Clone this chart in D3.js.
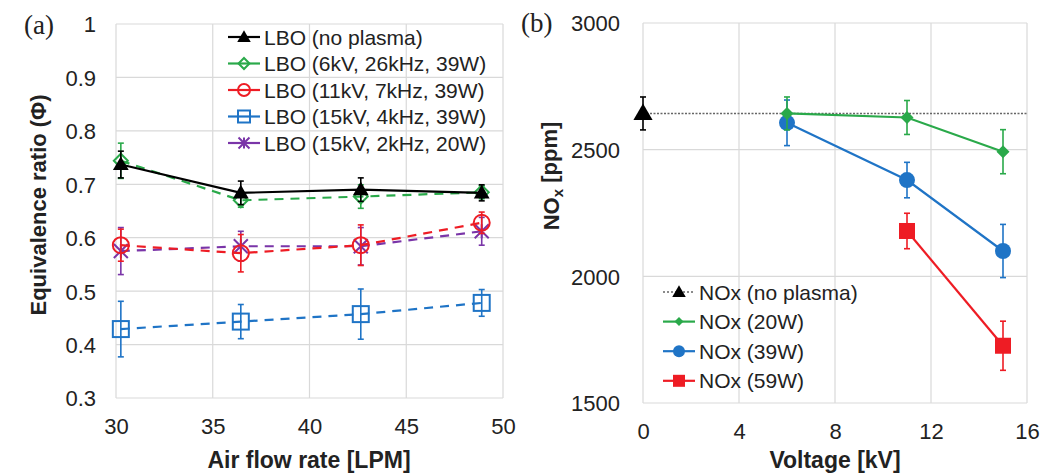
<!DOCTYPE html>
<html>
<head>
<meta charset="utf-8">
<script src="https://cdn.jsdelivr.net/npm/d3@7/dist/d3.min.js"></script>
<style>
  html, body { margin: 0; padding: 0; background: #fff; }
  svg { display: block; }
  text { font-family: "Liberation Sans", Arial, sans-serif; fill: #222; }
</style>
</head>
<body>
<svg id="chart" width="1062" height="476"></svg>
<script>
// ---- Panel (a): lean blow-out equivalence ratio vs air flow rate ----
const flowRate = [30.25, 36.45, 42.65, 48.9];
const lboNoPlasma = [0.737, 0.684, 0.690, 0.684];
const lboNoPlasmaErr = [0.025, 0.022, 0.022, 0.015];
const lbo6kV = [0.744, 0.670, 0.677, 0.685];
const lbo6kVErr = [0.033, 0.013, 0.022, 0.012];
const lbo11kV = [0.586, 0.571, 0.586, 0.628];
const lbo11kVErr = [0.030, 0.035, 0.038, 0.020];
const lbo15kV4 = [0.429, 0.443, 0.457, 0.478];
const lbo15kV4Err = [0.052, 0.032, 0.047, 0.025];
const lbo15kV2 = [0.575, 0.584, 0.584, 0.612];
const lbo15kV2Err = [0.044, 0.028, 0.035, 0.026];
const flowTicks = [30, 35, 40, 45, 50];
const phiTicks = [0.3, 0.4, 0.5, 0.6, 0.7, 0.8, 0.9, 1];
const phiTickLabels = ["0.3", "0.4", "0.5", "0.6", "0.7", "0.8", "0.9", "1"];

// ---- Panel (b): NOx emission vs applied voltage ----
const noPlasmaVoltage = [0];
const noxNoPlasma = [2643];
const noxNoPlasmaErr = [65];
const voltage = [6, 11, 15];
const nox20W = [2643, 2627, 2492];
const nox20WErr = [65, 67, 87];
const nox39W = [2606, 2380, 2100];
const nox39WErr = [90, 70, 105];
const voltage59W = [11, 15];
const nox59W = [2179, 1726];
const nox59WErr = [70, 97];
const voltTicks = [0, 4, 8, 12, 16];
const noxTicks = [1500, 2000, 2500, 3000];

const C = {
  black: "#000000",
  green: "#2aa94a",
  red: "#ee1c24",
  blue: "#1f74c6",
  purple: "#7a35a8",
  grid: "#d9d9d9",
  dot: "#666666"
};

const svg = d3.select("#chart");

// marker drawing helpers
function drawMarker(g, type, x, y, color, size) {
  const s = size;
  if (type === "triangle") {
    g.append("path").attr("d", d3.symbol(d3.symbolTriangle, s * s * 0.55)())
      .attr("transform", `translate(${x},${y + 1})`).attr("fill", color);
  } else if (type === "diamondOpen") {
    g.append("path").attr("d", `M0,${-s/2}L${s/2},0L0,${s/2}L${-s/2},0Z`)
      .attr("transform", `translate(${x},${y})`)
      .attr("fill", "none").attr("stroke", color).attr("stroke-width", 2);
  } else if (type === "diamond") {
    g.append("path").attr("d", `M0,${-s/2}L${s/2},0L0,${s/2}L${-s/2},0Z`)
      .attr("transform", `translate(${x},${y})`).attr("fill", color);
  } else if (type === "circleOpen") {
    g.append("circle").attr("cx", x).attr("cy", y).attr("r", s / 2)
      .attr("fill", "none").attr("stroke", color).attr("stroke-width", 2);
  } else if (type === "circle") {
    g.append("circle").attr("cx", x).attr("cy", y).attr("r", s / 2).attr("fill", color);
  } else if (type === "squareOpen") {
    g.append("rect").attr("x", x - s/2).attr("y", y - s/2).attr("width", s).attr("height", s)
      .attr("fill", "none").attr("stroke", color).attr("stroke-width", 2);
  } else if (type === "square") {
    g.append("rect").attr("x", x - s/2).attr("y", y - s/2).attr("width", s).attr("height", s)
      .attr("fill", color);
  } else if (type === "star") {
    const h = s / 2;
    g.append("path")
      .attr("d", `M${-h},${-h}L${h},${h}M${-h},${h}L${h},${-h}M0,${-h}L0,${h}`)
      .attr("transform", `translate(${x},${y})`)
      .attr("stroke", color).attr("stroke-width", 2).attr("fill", "none");
  }
}

function drawSeries(g, xs, ys, errs, xScale, yScale, opt) {
  const pts = xs.map((d, i) => [xScale(d), yScale(ys[i]), errs[i]]);
  // error bars
  pts.forEach((p, i) => {
    const y0 = yScale(ys[i] - errs[i]), y1 = yScale(ys[i] + errs[i]);
    g.append("line").attr("x1", p[0]).attr("x2", p[0]).attr("y1", y0).attr("y2", y1)
      .attr("stroke", opt.color).attr("stroke-width", 1.6);
    [y0, y1].forEach(yy => g.append("line")
      .attr("x1", p[0] - 3).attr("x2", p[0] + 3).attr("y1", yy).attr("y2", yy)
      .attr("stroke", opt.color).attr("stroke-width", 1.6));
  });
  // connecting line
  if (pts.length > 1) {
    g.append("path").attr("d", d3.line()(pts.map(p => [p[0], p[1]])))
      .attr("fill", "none").attr("stroke", opt.color).attr("stroke-width", 2.2)
      .attr("stroke-dasharray", opt.dash || null);
  }
  pts.forEach(p => drawMarker(g, opt.marker, p[0], p[1], opt.color, opt.size));
}

function drawGrid(g, xScale, yScale, xt, yt) {
  const [x0, x1] = xScale.range();
  const [y0, y1] = yScale.range();
  xt.forEach(t => g.append("line").attr("x1", xScale(t)).attr("x2", xScale(t))
    .attr("y1", y0).attr("y2", y1).attr("stroke", C.grid).attr("stroke-width", 1.2));
  yt.forEach(t => g.append("line").attr("x1", x0).attr("x2", x1)
    .attr("y1", yScale(t)).attr("y2", yScale(t)).attr("stroke", C.grid).attr("stroke-width", 1.2));
}

function legend(g, items, x0, y0, dy) {
  items.forEach((it, i) => {
    const y = y0 + i * dy;
    g.append("line").attr("x1", x0).attr("x2", x0 + 32).attr("y1", y).attr("y2", y)
      .attr("stroke", it.lineColor || it.color).attr("stroke-width", it.dotted ? 1.6 : 2.2)
      .attr("stroke-dasharray", it.dotted ? "2,2" : null);
    drawMarker(g, it.marker, x0 + 16, y, it.color, it.size);
    g.append("text").attr("x", x0 + 36).attr("y", y).attr("dy", "0.36em")
      .attr("font-size", 21).text(it.label);
  });
}

// ================= Panel (a) =================
const xa = d3.scaleLinear().domain([30, 50]).range([116, 503]);
const ya = d3.scaleLinear().domain([0.3, 1]).range([398, 24]);
const ga = svg.append("g");
drawGrid(ga, xa, ya, flowTicks, phiTicks);

ga.append("g").attr("transform", "translate(0,0)")
  .call(d3.axisBottom(xa).tickValues(flowTicks).tickSize(0).tickPadding(0).tickFormat(d3.format("d")))
  .call(s => s.select(".domain").remove())
  .selectAll("text").attr("y", 434).attr("dy", 0).attr("font-size", 22)
  .attr("fill", "#222").attr("font-family", "Liberation Sans, Arial, sans-serif");

ga.append("g")
  .call(d3.axisLeft(ya).tickValues(phiTicks).tickSize(0).tickPadding(0)
    .tickFormat((d, i) => phiTickLabels[i]))
  .call(s => s.select(".domain").remove())
  .selectAll("text").attr("x", 96).attr("dy", "0.36em").attr("font-size", 22)
  .attr("fill", "#222").attr("font-family", "Liberation Sans, Arial, sans-serif");

drawSeries(ga, flowRate, lbo15kV4, lbo15kV4Err, xa, ya, { color: C.blue, marker: "squareOpen", size: 16, dash: "9,7" });
drawSeries(ga, flowRate, lbo15kV2, lbo15kV2Err, xa, ya, { color: C.purple, marker: "star", size: 14, dash: "9,7" });
drawSeries(ga, flowRate, lbo11kV, lbo11kVErr, xa, ya, { color: C.red, marker: "circleOpen", size: 16, dash: "9,7" });
drawSeries(ga, flowRate, lbo6kV, lbo6kVErr, xa, ya, { color: C.green, marker: "diamondOpen", size: 14, dash: "9,7" });
drawSeries(ga, flowRate, lboNoPlasma, lboNoPlasmaErr, xa, ya, { color: C.black, marker: "triangle", size: 14 });

legend(ga, [
  { label: "LBO (no plasma)", color: C.black, marker: "triangle", size: 12 },
  { label: "LBO (6kV, 26kHz, 39W)", color: C.green, marker: "diamondOpen", size: 11 },
  { label: "LBO (11kV, 7kHz, 39W)", color: C.red, marker: "circleOpen", size: 12 },
  { label: "LBO (15kV, 4kHz, 39W)", color: C.blue, marker: "squareOpen", size: 12 },
  { label: "LBO (15kV, 2kHz, 20W)", color: C.purple, marker: "star", size: 11 }
], 228, 37, 26.5);

ga.append("text").attr("x", 309).attr("y", 468).attr("text-anchor", "middle")
  .attr("font-size", 23).attr("font-weight", "bold").text("Air flow rate [LPM]");
ga.append("text").attr("transform", "translate(38,205) rotate(-90)")
  .attr("text-anchor", "middle").attr("dy", "0.36em")
  .attr("font-size", 22).attr("font-weight", "bold").text("Equivalence ratio (Φ)");
ga.append("text").attr("x", 24).attr("y", 25).attr("dy", "0.34em")
  .attr("font-size", 27).style("font-family", "Liberation Serif, Times New Roman, serif")
  .text("(a)");

// ================= Panel (b) =================
const xb = d3.scaleLinear().domain([0, 16]).range([643, 1027]);
const yb = d3.scaleLinear().domain([1500, 3000]).range([403, 23]);
const gb = svg.append("g");
drawGrid(gb, xb, yb, voltTicks, noxTicks);

gb.append("g")
  .call(d3.axisBottom(xb).tickValues(voltTicks).tickSize(0).tickPadding(0).tickFormat(d3.format("d")))
  .call(s => s.select(".domain").remove())
  .selectAll("text").attr("y", 439).attr("dy", 0).attr("font-size", 22)
  .attr("fill", "#222").attr("font-family", "Liberation Sans, Arial, sans-serif");

gb.append("g")
  .call(d3.axisLeft(yb).tickValues(noxTicks).tickSize(0).tickPadding(0).tickFormat(d3.format("d")))
  .call(s => s.select(".domain").remove())
  .selectAll("text").attr("x", 620).attr("dy", "0.36em").attr("font-size", 22)
  .attr("fill", "#222").attr("font-family", "Liberation Sans, Arial, sans-serif");

// no-plasma reference level carried across the voltage range
gb.append("line")
  .attr("x1", xb(noPlasmaVoltage[0])).attr("x2", xb(voltTicks[voltTicks.length - 1]))
  .attr("y1", yb(noxNoPlasma[0])).attr("y2", yb(noxNoPlasma[0]))
  .attr("stroke", C.dot).attr("stroke-width", 1.6).attr("stroke-dasharray", "2,1.5");
drawSeries(gb, noPlasmaVoltage, noxNoPlasma, noxNoPlasmaErr, xb, yb, { color: C.black, marker: "triangle", size: 17 });

drawSeries(gb, voltage, nox39W, nox39WErr, xb, yb, { color: C.blue, marker: "circle", size: 16 });
drawSeries(gb, voltage, nox20W, nox20WErr, xb, yb, { color: C.green, marker: "diamond", size: 13 });
drawSeries(gb, voltage59W, nox59W, nox59WErr, xb, yb, { color: C.red, marker: "square", size: 16 });

legend(gb, [
  { label: "NOx (no plasma)", color: C.black, lineColor: C.dot, dotted: true, marker: "triangle", size: 12 },
  { label: "NOx (20W)", color: C.green, marker: "diamond", size: 9 },
  { label: "NOx (39W)", color: C.blue, marker: "circle", size: 12 },
  { label: "NOx (59W)", color: C.red, marker: "square", size: 12 }
], 663, 292, 29.6);

gb.append("text").attr("x", 835).attr("y", 468).attr("text-anchor", "middle")
  .attr("font-size", 23).attr("font-weight", "bold").text("Voltage [kV]");
const yt = gb.append("text").attr("transform", "translate(551,176) rotate(-90)")
  .attr("text-anchor", "middle").attr("dy", "0.36em")
  .attr("font-size", 22).attr("font-weight", "bold");
yt.append("tspan").text("NO");
yt.append("tspan").attr("font-size", 15).attr("dy", "0.3em").text("x");
yt.append("tspan").attr("dy", "-0.3em").text(" [ppm]");
gb.append("text").attr("x", 521).attr("y", 23).attr("dy", "0.34em")
  .attr("font-size", 27).style("font-family", "Liberation Serif, Times New Roman, serif")
  .text("(b)");
</script>
</body>
</html>
